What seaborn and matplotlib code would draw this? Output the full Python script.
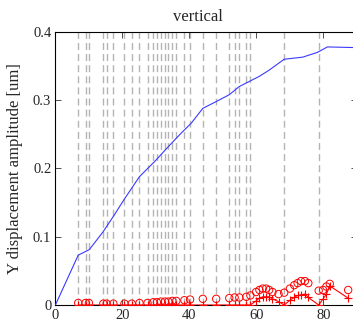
import matplotlib
matplotlib.use("Agg")
import matplotlib.pyplot as plt
import seaborn as sns
from matplotlib.ticker import FuncFormatter

# blue curve: Y displacement amplitude
blue_x = [0, 6.8, 10.1, 14.2, 17.2, 20.7, 25.1, 29.6, 34.1, 38.0, 40.5, 44.0, 48.0,
          51.9, 54.9, 60.9, 63.8, 68.3, 73.8, 78.2, 81.2, 90]
blue_y = [0, 0.073, 0.081, 0.107, 0.129, 0.156, 0.188, 0.21, 0.234, 0.254, 0.266, 0.288,
          0.298, 0.308, 0.320, 0.335, 0.344, 0.360, 0.363, 0.370, 0.378, 0.377]

# vertical dashed reference lines
dash_x = [6.8, 9.0, 10.0, 14.3, 15.3, 17.3, 20.6, 22.8, 25.1, 27.5, 29.2, 30.3, 31.5,
          32.7, 33.7, 34.9, 36.1, 38.5, 40.2, 44.0, 48.0, 51.9, 53.5, 54.9, 57.0, 58.2,
          68.3, 78.6]

# red series (circles and plus markers)
red_x = [6.8, 9.0, 10.0, 14.3, 15.3, 17.3, 20.6, 22.8, 25.1, 27.5, 29.2, 30.3, 31.5,
         32.7, 33.7, 34.9, 36.1, 38.5, 40.2, 44.0, 48.0, 51.9, 53.5, 54.9, 57.0, 58.2,
         59.9, 60.9, 61.9, 62.9, 63.8, 64.8, 66.6, 68.3, 70.0, 71.3, 72.3, 73.3, 74.5,
         75.5, 78.6, 79.9, 80.9, 81.9, 87.4]
circ_y = [0.003, 0.003, 0.003, 0.002, 0.002, 0.002, 0.002, 0.002, 0.003, 0.003, 0.004,
          0.004, 0.005, 0.005, 0.005, 0.006, 0.006, 0.007, 0.008, 0.009, 0.009, 0.010,
          0.011, 0.011, 0.012, 0.014, 0.019, 0.022, 0.024, 0.024, 0.022, 0.019, 0.016,
          0.018, 0.024, 0.029, 0.032, 0.035, 0.035, 0.032, 0.021, 0.022, 0.027, 0.031,
          0.022]
plus_y = [0] * 26 + [0.006, 0.010, 0.012, 0.012, 0.012, 0.009, 0.005, 0.0, 0.007, 0.011,
                     0.014, 0.015, 0.016, 0.011, 0.0, 0.009, 0.016, 0.028, 0.010]

xticks = [0, 20, 40, 60, 80]
yticks = [0, 0.1, 0.2, 0.3, 0.4]

sns.set_style("ticks")
plt.rcParams["font.family"] = ["Liberation Serif", "DejaVu Serif"]
plt.rcParams["xtick.direction"] = "in"
plt.rcParams["ytick.direction"] = "in"

fig = plt.figure(figsize=(3.53, 3.29), dpi=100)
ax = fig.add_axes([0.157, 0.073, 0.854, 0.83])

for xv in dash_x:
    ax.axvline(xv, color="#b4b4b4", lw=1.0, ls=(0, (5, 3)), zorder=1)

sns.lineplot(x=blue_x, y=blue_y, ax=ax, color="#3a3aff", lw=0.8, sort=False,
             estimator=None, zorder=3)
sns.lineplot(x=red_x, y=plus_y, ax=ax, color="red", lw=0.8, marker="+", markersize=6,
             markeredgewidth=0.8, markeredgecolor="red", sort=False, estimator=None,
             zorder=4)
sns.scatterplot(x=red_x, y=circ_y, ax=ax, marker="o", s=28, fc="none", ec="red",
                linewidth=0.7, zorder=5)

ax.set_xlim(0, 90)
ax.set_ylim(0, 0.4)
ax.set_xticks(xticks)
ax.set_yticks(yticks)
ax.yaxis.set_major_formatter(FuncFormatter(lambda v, p: "0" if v == 0 else f"{v:g}"))
ax.tick_params(axis="both", labelsize=10.5, length=4, width=0.6, color="#333333",
               top=True, right=True, pad=3)
for s in ax.spines.values():
    s.set_linewidth(0.8)
    s.set_color("black")

ax.set_ylabel("Y displacement amplitude [um]", fontsize=12)
ax.yaxis.set_label_coords(-0.108, 0.5)
ax.text(0.473, 1.04, "vertical", transform=ax.transAxes, ha="center", va="baseline",
        fontsize=12)

fig.savefig("out.png", dpi=100)
